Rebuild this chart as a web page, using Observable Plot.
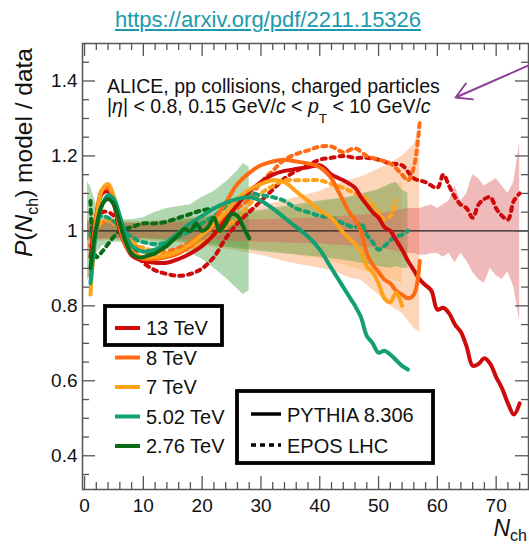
<!DOCTYPE html>
<html>
<head>
<meta charset="utf-8">
<script src="https://cdn.jsdelivr.net/npm/d3@7"></script>
<script src="https://cdn.jsdelivr.net/npm/@observablehq/plot@0.6"></script>
<style>
  html, body { margin: 0; padding: 0; background: #fff; }
  #wrap { width: 529px; height: 546px; position: relative; overflow: hidden; font-family: "Liberation Sans", Arial, sans-serif; }
  #title { height: 40px; box-sizing: border-box; padding-top: 9px; padding-left: 7px; text-align: center;
           font-size: 22px; line-height: 22px; color: #1a9aaa; }
  #title span { text-decoration: underline; }
  svg { display: block; }
</style>
</head>
<body>
<div id="wrap">
  <div id="title"><span>https://arxiv.org/pdf/2211.15326</span></div>
  <div id="chart"></div>
</div>
<script>
// ---------- Data ----------
const energies = ["13 TeV", "8 TeV", "7 TeV", "5.02 TeV", "2.76 TeV"];
const energyColors = ["#cf0a0a", "#ff6a12", "#ffa21a", "#12a072", "#0b6c18"];
const models = ["PYTHIA 8.306", "EPOS LHC"];

const yTickValues = [0.4, 0.6, 0.8, 1.0, 1.2, 1.4];
const xTickValues = [0, 10, 20, 30, 40, 50, 60, 70];

// PYTHIA 8.306 / data  ([Nch, ratio])
const pythia13 = [[1,0.93],[2,1.04],[3,1.10],[4,1.105],[5,1.07],[6,1.0],[7,0.96],[8,0.935],[9,0.925],[10,0.92],[12,0.915],[14,0.915],[16,0.925],[18,0.94],[20,0.96],[22,0.99],[24,1.03],[26,1.07],[28,1.105],[30,1.13],[32,1.15],[34,1.16],[36,1.165],[38,1.17],[40,1.175],[41,1.165],[42,1.15],[44,1.135],[46,1.115],[47,1.09],[48,1.07],[49,1.05],[50,1.035],[51,1.01],[52,1.0],[53,0.975],[54,0.95],[55,0.92],[56,0.895],[57,0.87],[58,0.855],[59,0.84],[60,0.79],[61,0.795],[62,0.78],[63,0.75],[64,0.73],[65,0.69],[66,0.64],[67,0.645],[68,0.66],[69,0.645],[70,0.61],[71,0.58],[72,0.54],[73,0.51],[74,0.54]];
const pythia8 = [[1,0.88],[2,1.04],[3,1.11],[4,1.115],[5,1.08],[6,1.01],[7,0.96],[8,0.94],[9,0.93],[10,0.925],[12,0.925],[14,0.93],[16,0.94],[18,0.96],[20,0.99],[22,1.03],[24,1.075],[26,1.125],[28,1.155],[30,1.175],[32,1.185],[34,1.19],[36,1.185],[38,1.18],[40,1.17],[42,1.14],[43,1.11],[44,1.08],[45,1.05],[46,1.03],[47,1.0],[48,0.94],[49,0.91],[50,0.89],[51,0.87],[52,0.86],[53,0.84],[54,0.83],[55,0.82],[56,0.83],[57,0.92]];
const pythia7 = [[1,0.83],[2,1.02],[3,1.11],[4,1.125],[5,1.09],[6,1.02],[7,0.97],[8,0.945],[9,0.935],[10,0.93],[12,0.93],[14,0.935],[16,0.945],[18,0.965],[20,0.99],[22,1.02],[24,1.05],[26,1.085],[28,1.11],[30,1.125],[32,1.135],[34,1.13],[36,1.105],[38,1.08],[40,1.055],[42,1.035],[44,0.995],[46,0.965],[47,0.945],[48,0.905],[49,0.89],[50,0.86],[51,0.82],[52,0.81],[53,0.835],[54,0.80]];
const pythia502 = [[1,0.86],[2,1.0],[3,1.07],[4,1.095],[5,1.085],[6,1.04],[7,0.99],[8,0.96],[9,0.95],[10,0.945],[12,0.95],[14,0.97],[16,0.995],[18,1.02],[20,1.04],[22,1.06],[24,1.075],[26,1.085],[28,1.09],[30,1.08],[32,1.06],[34,1.035],[36,1.01],[38,0.985],[40,0.95],[42,0.9],[44,0.85],[45,0.825],[46,0.8],[47,0.77],[48,0.72],[49,0.70],[50,0.675],[51,0.68],[52,0.67],[53,0.655],[54,0.64],[55,0.63]];
const pythia276 = [[1,0.90],[2,1.01],[3,1.07],[4,1.085],[5,1.07],[6,1.02],[7,0.97],[8,0.94],[9,0.93],[10,0.93],[11,0.935],[12,0.94],[13,0.95],[14,0.96],[15,0.975],[16,0.99],[17,1.005],[18,1.0],[19,1.02],[20,1.0],[21,1.01],[22,1.035],[23,1.0],[24,1.02],[25,1.045],[26,1.04],[27,1.01],[28,0.98]];

// EPOS LHC / data
const epos13 = [[1,0.96],[2,1.03],[3,1.05],[4,1.05],[5,1.04],[6,1.02],[7,0.99],[8,0.96],[9,0.935],[10,0.915],[12,0.895],[14,0.885],[16,0.88],[18,0.885],[20,0.90],[22,0.93],[24,0.98],[26,1.02],[28,1.05],[30,1.08],[32,1.11],[34,1.14],[36,1.16],[38,1.175],[40,1.19],[42,1.195],[44,1.2],[46,1.195],[48,1.195],[50,1.19],[52,1.18],[54,1.175],[56,1.14],[58,1.13],[60,1.115],[61,1.15],[62,1.12],[63,1.09],[64,1.07],[65,1.06],[66,1.035],[67,1.07],[68,1.085],[69,1.09],[70,1.06],[71,1.04],[72,1.03],[73,1.08],[74,1.10]];
const epos8 = [[1,0.96],[2,1.0],[3,1.02],[4,1.03],[5,1.025],[6,1.01],[7,0.99],[8,0.97],[9,0.955],[10,0.945],[12,0.94],[14,0.945],[16,0.955],[18,0.97],[20,0.99],[22,1.01],[24,1.035],[26,1.06],[28,1.085],[30,1.13],[32,1.16],[34,1.19],[36,1.205],[38,1.215],[40,1.225],[42,1.225],[44,1.21],[46,1.22],[48,1.2],[50,1.19],[52,1.18],[54,1.15],[55,1.135],[56,1.17],[57,1.29]];
const epos7 = [[1,0.97],[2,1.0],[3,1.025],[4,1.03],[5,1.02],[6,1.01],[7,0.99],[8,0.975],[9,0.96],[10,0.955],[12,0.945],[14,0.94],[16,0.945],[18,0.955],[20,0.97],[22,0.99],[24,1.01],[26,1.035],[28,1.07],[30,1.1],[32,1.12],[34,1.135],[36,1.135],[38,1.135],[40,1.135],[42,1.125],[44,1.115],[46,1.1],[48,1.085],[50,1.05],[51,1.03],[52,1.04],[53,1.08]];
const epos502 = [[1,0.99],[2,1.03],[3,1.04],[4,1.035],[5,1.025],[6,1.01],[7,0.995],[8,0.985],[9,0.975],[10,0.97],[12,0.965],[14,0.97],[16,0.985],[18,1.0],[20,1.02],[22,1.04],[24,1.065],[26,1.085],[28,1.1],[30,1.095],[32,1.09],[34,1.08],[36,1.06],[38,1.05],[40,1.04],[42,1.035],[44,1.02],[46,1.01],[47,1.02],[48,0.99],[49,0.97],[50,0.95],[51,0.96],[52,0.975],[53,0.985],[54,0.99],[55,1.0]];
const epos276 = [[1,1.08],[2,0.93],[3,0.945],[4,0.965],[5,0.985],[6,1.0],[8,1.01],[10,1.02],[12,1.02],[14,1.025],[16,1.035],[18,1.045],[20,1.055],[22,1.06]];

// Data uncertainty bands ([Nch, low, high])
const band13 = [[0.5,0.975,1.025],[5,0.98,1.02],[10,0.98,1.02],[20,0.975,1.025],[30,0.97,1.03],[40,0.965,1.035],[50,0.955,1.045],[55,0.94,1.06],[56,0.94,1.06],[57,0.935,1.06],[58,0.935,1.065],[59,0.94,1.07],[60,0.94,1.06],[61,0.93,1.07],[62,0.94,1.08],[63,0.915,1.12],[64,0.94,1.08],[65,0.92,1.1],[66,0.89,1.15],[67,0.87,1.14],[68,0.86,1.12],[69,0.9,1.13],[70,0.88,1.14],[71,0.87,1.12],[72,0.89,1.10],[73,0.85,1.13],[74,0.76,1.235]];
const band8 = [[0.5,0.97,1.03],[5,0.975,1.025],[10,0.975,1.025],[15,0.97,1.03],[20,0.96,1.04],[25,0.95,1.05],[30,0.935,1.065],[35,0.915,1.085],[40,0.9,1.105],[42,0.895,1.12],[45,0.875,1.135],[47,0.868,1.143],[50,0.83,1.165],[52,0.8,1.18],[54,0.78,1.2],[56,0.74,1.23],[57,0.73,1.27]];
const band7 = [[0.5,0.975,1.025],[10,0.98,1.02],[20,0.97,1.03],[30,0.95,1.05],[40,0.925,1.075],[45,0.905,1.09],[50,0.88,1.11],[54,0.86,1.13]];
const band502 = [[0.5,0.98,1.02],[10,0.98,1.02],[20,0.965,1.035],[30,0.945,1.055],[40,0.93,1.08],[45,0.92,1.09],[50,0.905,1.11],[52,0.9,1.125],[53,0.905,1.13],[54,0.9,1.11],[55,0.9,1.1]];
const band276 = [[0.5,0.87,1.13],[1,0.88,1.12],[2,0.94,1.07],[3,0.96,1.045],[5,0.97,1.03],[8,0.97,1.03],[10,0.965,1.035],[12,0.955,1.05],[14,0.95,1.06],[16,0.945,1.065],[18,0.94,1.07],[20,0.925,1.09],[22,0.9,1.105],[24,0.875,1.13],[26,0.845,1.16],[27,0.83,1.18],[28,0.84,1.17]];

const arrowAnnotation = [{x1: 75.6, y1: 1.442, x2: 63.1, y2: 1.356}];

// ---------- Build tables ----------
const pythiaSets = [pythia13, pythia8, pythia7, pythia502, pythia276];
const eposSets = [epos13, epos8, epos7, epos502, epos276];
const bandSets = [band13, band8, band7, band502, band276];
const toRows = (sets, model) => sets.flatMap((s, i) => s.map(([n, v]) => ({energy: energies[i], model, n, v})));
const pythiaRows = toRows(pythiaSets, models[0]);
const eposRows = toRows(eposSets, models[1]);
const bandRows = (i) => bandSets[i].map(([n, lo, hi]) => ({energy: energies[i], n, lo, hi}));

const colorOf = Object.fromEntries(energies.map((e, i) => [e, energyColors[i]]));

const W = 529, H = 506;
const mL = 82, mR = 1, mT = 3, mB = 57;
const innerW = W - mL - mR, innerH = H - mT - mB;
const majorLen = 13, minorLen = 7;

const xMinor = d3.range(0, 76, 2).filter(v => v % 10 !== 0);
const yMinor = [0.35,0.45,0.5,0.55,0.65,0.7,0.75,0.85,0.9,0.95,1.05,1.1,1.15,1.25,1.3,1.35,1.45];
const yMajorAll = [0.4, 0.6, 0.8, 1.0, 1.2, 1.4];
const tickStroke = "#555";

const bandStyle = [
  {fill: "#dd5a5a", op: 0.42},  // 13
  {fill: "#fa9a55", op: 0.42},  // 8
  {fill: "#ffa94a", op: 0.30},  // 7
  {fill: "#4ea24e", op: 0.42},  // 5.02
  {fill: "#3d9a3d", op: 0.40}   // 2.76
];
const bandOrder = [1, 2, 3, 4, 0];

const plot = Plot.plot({
  width: W, height: H,
  marginLeft: mL, marginRight: mR, marginTop: mT, marginBottom: mB,
  style: {fontFamily: "'Liberation Sans', Arial, sans-serif", background: "white", overflow: "visible"},
  x: {domain: [-0.35, 75.5]},
  y: {domain: [0.31, 1.5]},
  marks: [
    ...bandOrder.map(i => Plot.areaY(bandRows(i), {x: "n", y1: "lo", y2: "hi", fill: bandStyle[i].fill, fillOpacity: bandStyle[i].op, curve: "linear"})),
    Plot.ruleY([1], {stroke: "#222", strokeWidth: 1.2}),
    Plot.line(eposRows, {x: "n", y: "v", z: "energy", stroke: d => colorOf[d.energy], strokeWidth: 4, strokeDasharray: "4,5", curve: "catmull-rom"}),
    Plot.line(pythiaRows, {x: "n", y: "v", z: "energy", stroke: d => colorOf[d.energy], strokeWidth: 4, curve: "catmull-rom"}),
    // ROOT-style inward ticks (bottom/top/left/right)
    Plot.tickX(xTickValues, {x: d => d, insetTop: innerH - majorLen, stroke: tickStroke, strokeWidth: 1.3}),
    Plot.tickX(xMinor, {x: d => d, insetTop: innerH - minorLen, stroke: tickStroke, strokeWidth: 1.3}),
    Plot.tickX(xTickValues, {x: d => d, insetBottom: innerH - majorLen, stroke: tickStroke, strokeWidth: 1.3}),
    Plot.tickX(xMinor, {x: d => d, insetBottom: innerH - minorLen, stroke: tickStroke, strokeWidth: 1.3}),
    Plot.tickY(yMajorAll, {y: d => d, insetRight: innerW - majorLen, stroke: tickStroke, strokeWidth: 1.3}),
    Plot.tickY(yMinor, {y: d => d, insetRight: innerW - minorLen, stroke: tickStroke, strokeWidth: 1.3}),
    Plot.tickY(yMajorAll, {y: d => d, insetLeft: innerW - majorLen, stroke: tickStroke, strokeWidth: 1.3}),
    Plot.tickY(yMinor, {y: d => d, insetLeft: innerW - minorLen, stroke: tickStroke, strokeWidth: 1.3}),
    Plot.axisX(xTickValues, {tickSize: 0, tickPadding: 9, fontSize: 19, label: null, color: "#111"}),
    Plot.axisY(yTickValues, {tickSize: 0, tickPadding: 5, fontSize: 19, label: null, color: "#111",
      tickFormat: d => d === 1 ? "1" : d.toFixed(1)}),
    Plot.frame({stroke: "#555", strokeWidth: 1.5}),
    Plot.arrow(arrowAnnotation, {x1: "x1", y1: "y1", x2: "x2", y2: "y2", stroke: "#8e3f96", strokeWidth: 2, headLength: 13})
  ]
});
document.getElementById("chart").appendChild(plot);

// ---------- Text annotations, axis titles, legends ----------
const svg = d3.select(plot);
const FONT = "'Liberation Sans', Arial, sans-serif";
const addText = (x, y, size) => svg.append("text").attr("x", x).attr("y", y).attr("font-size", size)
  .attr("font-family", FONT).attr("fill", "#111").attr("text-anchor", "start");

// Header text inside the frame
addText(107, 52.5, 19.5).text("ALICE, pp collisions, charged particles");
const t2 = addText(107, 72.5, 19.5);
t2.append("tspan").text("|");
t2.append("tspan").attr("font-style", "italic").text("η");
t2.append("tspan").text("| < 0.8, 0.15 GeV/");
t2.append("tspan").attr("font-style", "italic").text("c");
t2.append("tspan").text(" < ");
t2.append("tspan").attr("font-style", "italic").text("p");
t2.append("tspan").attr("font-size", 13.5).attr("dy", 10).text("T");
t2.append("tspan").attr("dy", -10).text(" < 10 GeV/");
t2.append("tspan").attr("font-style", "italic").text("c");

// Y axis title
const yt = svg.append("text").attr("transform", "translate(32,112.5) rotate(-90)").attr("text-anchor", "middle")
  .attr("font-size", 24.5).attr("font-family", FONT).attr("fill", "#111");
yt.append("tspan").attr("font-style", "italic").text("P");
yt.append("tspan").text("(");
yt.append("tspan").attr("font-style", "italic").text("N");
yt.append("tspan").attr("font-size", 16).attr("dy", 6).text("ch");
yt.append("tspan").attr("dy", -6).text(") model / data");

// X axis title
const xt = svg.append("text").attr("x", 527).attr("y", 496).attr("text-anchor", "end")
  .attr("font-size", 23).attr("font-family", FONT).attr("fill", "#111");
xt.append("tspan").attr("font-style", "italic").text("N");
xt.append("tspan").attr("font-size", 16).attr("dy", 5).text("ch");

// Energy legend
svg.append("rect").attr("x", 105).attr("y", 266).attr("width", 117).attr("height", 39)
  .attr("fill", "none").attr("stroke", "#000").attr("stroke-width", 3.8);
energies.forEach((e, i) => {
  const by = 295 + 29.5 * i;
  svg.append("line").attr("x1", 115).attr("x2", 140).attr("y1", by - 7).attr("y2", by - 7)
    .attr("stroke", energyColors[i]).attr("stroke-width", 4);
  addText(146, by, 20).text(e);
});

// Model legend
svg.append("rect").attr("x", 237).attr("y", 351).attr("width", 196).attr("height", 72)
  .attr("fill", "white").attr("stroke", "#000").attr("stroke-width", 3.8);
models.forEach((m, i) => {
  const by = 382 + 31 * i;
  svg.append("line").attr("x1", 251).attr("x2", 281).attr("y1", by - 8).attr("y2", by - 8)
    .attr("stroke", "#000").attr("stroke-width", 3.5).attr("stroke-dasharray", i === 0 ? null : "5,4");
  addText(287, by, 20).text(m);
});
</script>
</body>
</html>
